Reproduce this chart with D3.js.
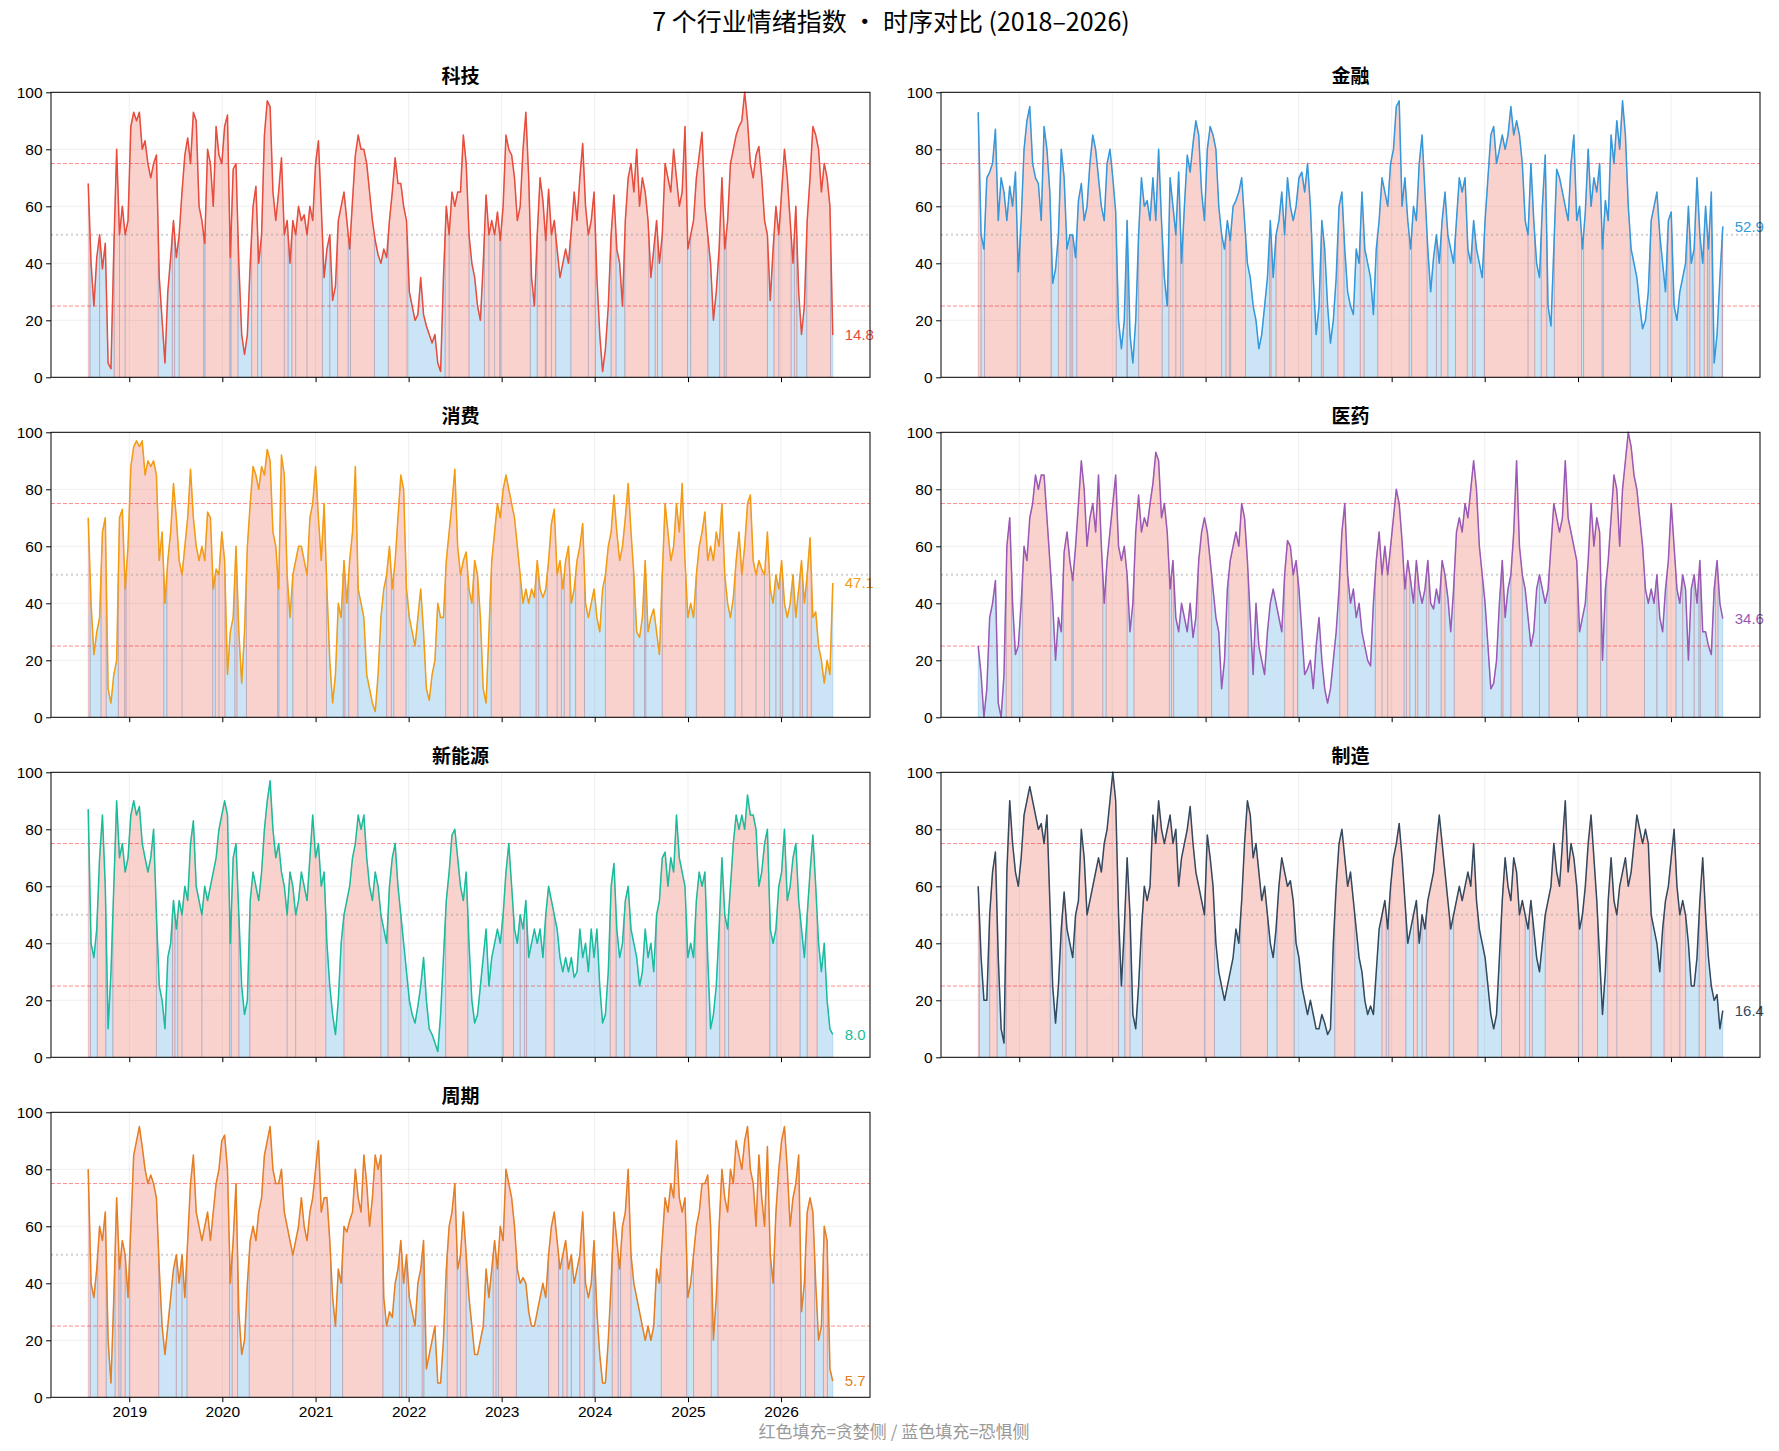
<!DOCTYPE html>
<html>
<head>
<meta charset="utf-8">
<script src="https://cdn.jsdelivr.net/npm/d3@7"></script>
<style>
  body { margin: 0; background: #fff; }
  .tick text { font-family: "Liberation Sans", Arial, sans-serif; font-size: 15.5px; fill: #000; }
</style>
</head>
<body>
<svg id="chart" width="1779" height="1451"></svg>
<script>
// sectors + colours
const sectors = ["科技", "金融", "消费", "医药", "新能源", "制造", "周期"];
const lineColors = ["#e74c3c", "#3498db", "#f39c12", "#9b59b6", "#1abc9c", "#34495e", "#e67e22"];
const yearTicks = [2019, 2020, 2021, 2022, 2023, 2024, 2025, 2026];
const yTicks = [0, 20, 40, 60, 80, 100];

// sentiment series, evenly spaced between start and end date
const keji = [68,40,25,42,50,38,47,5,3,45,80,50,60,50,55,88,93,90,93,80,83,75,70,75,78,35,20,5,30,42,55,42,50,65,78,84,75,93,90,60,55,47,80,75,60,88,78,75,88,92,42,73,75,40,15,8,15,40,60,67,40,50,85,97,95,65,55,65,77,50,55,40,55,50,60,55,57,50,60,55,75,83,60,35,45,50,27,32,55,60,65,55,45,62,78,85,80,80,75,65,55,48,43,40,45,42,55,65,77,68,68,60,55,30,25,20,22,35,22,18,15,12,15,5,2,35,60,50,65,60,65,65,85,75,50,40,35,25,20,40,64,50,55,50,58,48,60,85,80,78,70,55,60,80,93,70,35,25,50,70,62,48,66,50,55,45,35,40,45,40,52,65,55,70,82,60,50,55,65,35,15,2,10,25,50,64,45,40,25,55,70,75,65,80,60,70,65,55,35,45,55,40,50,75,70,65,80,70,60,65,88,45,50,55,70,78,86,60,50,40,20,30,45,70,45,55,75,80,85,88,90,100,90,75,70,78,81,70,55,50,27,45,60,50,65,80,70,55,40,60,30,15,25,55,70,88,85,80,65,75,70,60,14.8];
const jinrong = [93,50,45,70,72,75,87,55,70,65,55,67,60,72,37,55,80,90,95,75,70,68,55,88,80,65,33,38,50,80,70,45,50,50,42,62,68,55,60,75,85,80,70,60,55,75,80,70,58,20,10,20,55,15,5,20,50,70,60,62,55,70,55,80,55,35,25,70,60,50,72,40,60,78,72,82,90,85,65,55,80,88,85,80,60,50,45,55,48,60,62,65,70,55,40,35,25,20,10,15,25,35,55,35,50,55,65,50,70,60,55,60,70,72,65,75,60,35,15,25,55,45,25,12,20,35,60,65,45,30,25,22,45,40,65,45,40,35,22,45,55,70,65,60,75,80,95,97,60,70,55,45,60,55,75,85,65,45,30,42,50,40,55,65,50,45,40,55,70,65,70,45,40,55,45,40,35,55,70,85,88,75,80,85,80,85,95,85,90,85,75,55,50,75,55,40,35,60,78,25,18,45,73,70,65,60,55,75,85,55,60,45,58,80,60,70,65,75,45,62,55,85,75,90,80,97,85,60,45,40,35,25,17,20,30,55,60,65,50,40,30,55,58,25,20,30,35,40,60,40,45,70,50,40,60,45,65,5,15,35,52.9];
const xiaofei = [70,40,22,30,35,65,70,10,5,15,20,70,73,45,60,88,95,97,95,97,85,90,88,90,85,55,65,40,55,65,82,70,55,50,60,70,87,70,60,55,60,55,72,70,45,52,50,65,55,15,30,35,60,30,12,30,60,75,88,85,80,88,85,94,90,65,60,45,92,85,50,35,50,55,60,60,55,50,70,75,88,70,55,75,45,20,5,15,40,35,55,40,55,65,88,45,40,35,15,10,5,2,15,35,45,50,60,45,55,70,85,80,45,35,30,25,35,45,30,10,6,15,20,40,35,35,55,65,75,87,60,50,55,58,45,40,55,50,35,10,5,30,55,65,75,70,80,85,80,75,70,60,50,40,45,40,45,42,55,45,42,45,55,68,73,50,55,45,55,60,40,45,55,60,68,40,35,40,45,35,30,45,50,60,65,78,65,55,60,70,82,65,50,30,28,35,55,30,35,38,30,22,50,75,65,55,60,75,65,82,55,35,40,35,50,60,65,72,55,60,55,65,60,75,50,40,35,42,55,65,50,60,75,78,55,50,55,52,50,65,45,40,50,45,55,40,35,40,50,35,45,55,40,50,63,35,37,25,20,12,20,15,47.1];
const yiyao = [25,15,0,10,35,40,48,5,0,15,60,70,40,22,25,40,60,55,70,75,85,80,85,85,70,55,40,20,35,30,58,65,55,48,60,75,90,80,60,70,75,65,85,60,40,55,65,75,85,60,55,60,50,30,40,65,78,65,70,67,75,82,93,90,70,75,65,45,55,35,30,40,35,30,40,28,35,55,65,70,65,55,45,35,30,10,20,45,55,60,65,60,75,70,55,35,15,40,25,20,15,30,40,45,40,35,30,50,62,60,50,55,45,30,15,17,20,10,25,35,20,10,5,10,20,30,45,65,75,50,40,45,35,40,30,25,20,18,40,55,65,50,60,50,60,70,80,75,62,45,55,48,40,55,45,40,45,55,40,38,45,40,55,50,42,30,45,65,70,65,75,70,80,90,80,60,50,40,25,10,12,20,40,55,35,45,50,65,90,60,50,45,35,25,30,45,50,45,40,45,60,75,70,65,70,90,70,65,60,55,30,35,40,55,75,60,70,65,20,45,55,70,85,80,60,80,90,100,95,85,80,70,60,45,40,45,40,50,35,30,45,55,75,60,45,40,50,45,20,45,50,40,55,30,30,25,22,45,55,40,34.6];
const xinnengyuan = [87,40,35,45,70,85,60,10,30,60,90,70,75,65,70,85,90,85,88,75,70,65,70,80,50,25,20,10,35,40,55,45,55,50,60,55,75,83,60,55,50,60,55,60,65,70,80,85,90,85,40,70,75,50,25,15,20,55,65,60,55,65,80,90,97,80,70,75,65,60,50,65,60,50,55,65,60,55,70,85,70,75,60,65,40,25,15,8,20,40,50,55,60,70,75,85,80,85,70,60,55,65,60,50,45,40,60,70,75,60,50,40,30,20,15,12,18,25,35,20,10,8,5,2,15,35,55,65,78,80,70,60,55,65,40,20,12,15,25,35,45,25,35,40,45,40,50,65,75,60,45,40,50,45,55,35,40,45,40,45,35,50,60,55,50,45,35,30,35,30,35,28,30,45,35,40,30,45,35,45,25,12,15,30,60,68,45,35,40,55,60,45,40,35,25,30,45,35,40,30,50,55,70,72,60,70,65,85,70,65,60,35,40,35,55,65,60,65,35,10,15,25,45,70,50,45,60,75,85,80,85,80,92,85,85,80,60,65,75,80,45,40,45,60,65,80,55,60,70,75,55,45,35,50,65,78,60,40,30,40,20,10,8.0];
const zhizao = [60,35,20,20,50,65,72,35,10,5,65,90,75,65,60,70,85,90,95,90,85,80,82,75,85,55,25,12,25,45,58,45,40,35,50,55,80,70,50,55,60,65,70,65,75,80,90,100,90,50,25,45,70,50,15,10,25,45,60,55,60,85,75,90,80,75,80,85,75,80,60,70,75,80,88,75,65,60,55,50,78,70,60,40,30,25,20,25,30,35,45,40,55,75,90,85,70,75,65,55,60,50,40,35,45,60,70,65,60,62,55,40,35,25,20,15,20,15,10,10,15,12,8,10,40,60,75,80,70,60,65,55,45,35,30,20,15,18,15,30,45,50,55,45,60,70,75,82,70,55,40,45,50,55,40,50,45,55,60,65,75,85,75,65,55,45,50,55,60,55,60,65,60,75,55,45,40,35,25,15,10,15,35,55,70,60,55,70,65,50,55,50,45,55,45,35,30,40,50,55,60,75,65,60,75,90,65,75,70,60,45,50,60,75,85,70,55,35,15,30,55,70,55,50,60,65,70,60,65,75,85,80,75,80,75,50,45,40,30,45,55,60,70,80,60,50,55,50,40,25,25,35,55,70,50,35,25,20,22,10,16.4];
const zhouqi = [80,40,35,45,60,55,65,20,5,35,70,45,55,50,35,60,85,90,95,88,80,75,78,75,70,45,25,15,25,35,45,50,40,50,35,55,75,85,65,60,55,60,65,55,65,75,80,90,92,80,40,55,75,30,15,20,40,55,60,55,65,70,85,90,95,80,75,75,80,65,60,55,50,55,60,70,60,55,65,70,80,90,65,70,70,55,35,25,45,40,60,58,62,65,80,70,65,85,75,60,70,85,80,85,35,25,30,28,40,45,55,40,50,35,30,25,40,45,55,10,15,20,25,5,5,20,45,60,65,75,45,50,65,50,35,25,15,15,20,25,45,35,45,55,45,60,55,80,75,70,60,45,40,42,40,30,25,25,30,35,40,35,50,60,65,55,45,50,55,45,50,40,45,50,65,40,35,40,55,30,15,5,5,20,40,65,55,45,60,65,80,50,40,35,30,25,20,25,20,25,45,40,55,70,65,75,70,90,70,65,70,35,40,50,60,65,75,75,78,60,20,35,60,80,70,65,80,75,90,85,80,90,95,80,75,60,85,70,60,88,50,40,65,80,90,95,80,60,70,75,85,30,40,65,70,65,40,20,25,60,55,10,5.7];

const seriesList = [keji, jinrong, xiaofei, yiyao, xinnengyuan, zhizao, zhouqi];

const startDate = new Date(2018, 6, 24);
const endDate = new Date(2026, 6, 23);

// layout
const svg = d3.select("#chart");
const panelW = 819, panelH = 285;
const colX = [51, 941];
const rowY = [92.3, 432.3, 772.3, 1112.3];

const span = endDate - startDate;
const x = d3.scaleTime()
  .domain([new Date(+startDate - 0.05 * span), new Date(+endDate + 0.05 * span)])
  .range([0, panelW]);
const y = d3.scaleLinear().domain([0, 100]).range([panelH, 0]);

// insert the 50-crossing so the greed / fear fills meet cleanly
function splitAt50(pts) {
  const out = [pts[0]];
  for (let k = 1; k < pts.length; k++) {
    const a = pts[k - 1], b = pts[k];
    if ((a.v - 50) * (b.v - 50) < 0) {
      const f = (50 - a.v) / (b.v - a.v);
      out.push({ t: new Date(+a.t + f * (b.t - a.t)), v: 50 });
    }
    out.push(b);
  }
  return out;
}

svg.append("text")
  .attr("x", 891).attr("y", 31)
  .attr("text-anchor", "middle")
  .style("font-family", "'Noto Sans CJK SC', sans-serif")
  .style("font-size", "25px")
  .text("7 个行业情绪指数 · 时序对比 (2018–2026)");

seriesList.forEach(function (vals, i) {
  const col = i % 2, row = Math.floor(i / 2);
  const g = svg.append("g").attr("transform", "translate(" + colX[col] + "," + rowY[row] + ")");
  const n = vals.length;
  const pts = vals.map(function (v, k) {
    return { t: new Date(+startDate + k * span / (n - 1)), v: v };
  });
  const filled = splitAt50(pts);

  // grid
  g.selectAll("line.hgrid").data(yTicks).enter().append("line")
    .attr("x1", 0).attr("x2", panelW)
    .attr("y1", d => y(d)).attr("y2", d => y(d))
    .attr("stroke", "#b0b0b0").attr("stroke-opacity", 0.25).attr("stroke-width", 0.8);
  g.selectAll("line.vgrid").data(yearTicks).enter().append("line")
    .attr("x1", d => x(new Date(d, 0, 1))).attr("x2", d => x(new Date(d, 0, 1)))
    .attr("y1", 0).attr("y2", panelH)
    .attr("stroke", "#b0b0b0").attr("stroke-opacity", 0.25).attr("stroke-width", 0.8);

  // fills: red above 50 (greed), blue below (fear)
  const greed = d3.area().defined(d => d.v >= 50)
    .x(d => x(d.t)).y0(y(0)).y1(d => y(d.v));
  const fear = d3.area().defined(d => d.v <= 50)
    .x(d => x(d.t)).y0(y(0)).y1(d => y(d.v));
  g.append("path").attr("d", fear(filled))
    .attr("fill", "#3498db").attr("fill-opacity", 0.25)
    .attr("stroke", "#3498db").attr("stroke-opacity", 0.3).attr("stroke-width", 0.8);
  g.append("path").attr("d", greed(filled))
    .attr("fill", "#e74c3c").attr("fill-opacity", 0.25)
    .attr("stroke", "#b05060").attr("stroke-opacity", 0.3).attr("stroke-width", 0.8);

  // reference lines
  [75, 25].forEach(function (lv) {
    g.append("line").attr("x1", 0).attr("x2", panelW).attr("y1", y(lv)).attr("y2", y(lv))
      .attr("stroke", "#ff0000").attr("stroke-opacity", 0.45).attr("stroke-width", 1)
      .attr("stroke-dasharray", "4,2");
  });
  g.append("line").attr("x1", 0).attr("x2", panelW).attr("y1", y(50)).attr("y2", y(50))
    .attr("stroke", "#999").attr("stroke-opacity", 0.45).attr("stroke-width", 2)
    .attr("stroke-dasharray", "2,3");

  // series line
  g.append("path").datum(pts)
    .attr("d", d3.line().x(d => x(d.t)).y(d => y(d.v)))
    .attr("fill", "none").attr("stroke", lineColors[i]).attr("stroke-width", 1.5)
    .attr("stroke-linejoin", "round");

  // last value label
  const last = pts[n - 1];
  g.append("text")
    .attr("x", x(last.t) + 12).attr("y", y(last.v))
    .attr("dy", "0.35em")
    .style("font-family", "'Liberation Sans', Arial, sans-serif").style("font-size", "15px")
    .attr("fill", lineColors[i])
    .text(last.v.toFixed(1));

  // axes
  const yAxis = d3.axisLeft(y).tickValues(yTicks).tickSize(4.9).tickPadding(3.5);
  const yG = g.append("g").call(yAxis);
  yG.select(".domain").remove();

  const xAxis = d3.axisBottom(x)
    .tickValues(yearTicks.map(d => new Date(d, 0, 1)))
    .tickSize(4.9).tickPadding(3.5)
    .tickFormat(i === 6 ? d3.timeFormat("%Y") : () => "");
  const xG = g.append("g").attr("transform", "translate(0," + panelH + ")").call(xAxis);
  xG.select(".domain").remove();

  g.append("rect").attr("width", panelW).attr("height", panelH)
    .attr("fill", "none").attr("stroke", "#000").attr("stroke-width", 1);

  g.append("text")
    .attr("x", panelW / 2).attr("y", -9)
    .attr("text-anchor", "middle")
    .style("font-family", "'Noto Sans CJK SC', sans-serif")
    .style("font-size", "19px").style("font-weight", "bold")
    .text(sectors[i]);
});

svg.append("text")
  .attr("x", 894).attr("y", 1438)
  .attr("text-anchor", "middle")
  .style("font-family", "'Noto Sans CJK SC', sans-serif")
  .style("font-size", "17px")
  .attr("fill", "#999")
  .text("红色填充=贪婪侧 / 蓝色填充=恐惧侧");
</script>
</body>
</html>
